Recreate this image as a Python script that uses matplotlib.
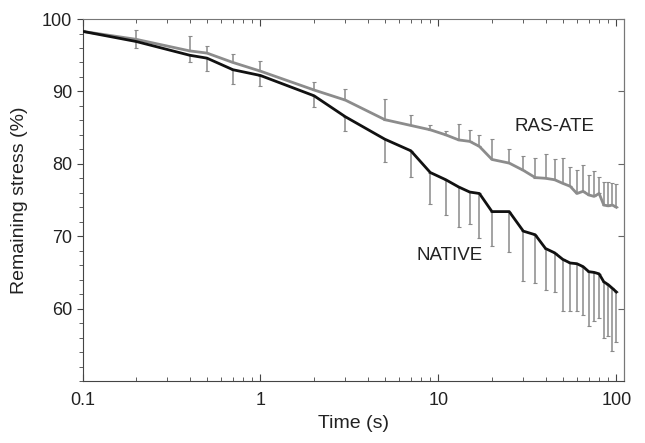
import numpy as np
import matplotlib.pyplot as plt
from matplotlib.ticker import LogLocator, MultipleLocator, FixedLocator

plt.rcParams['font.family'] = ['Liberation Sans', 'DejaVu Sans']

# time points (s)
t = [0.1, 0.2, 0.4, 0.5, 0.7, 1, 2, 3, 5, 7, 9, 11, 13, 15, 17, 20, 25, 30, 35,
     40, 45, 50, 55, 60, 65, 70, 75, 80, 85, 90, 95, 100]

# RAS-ATE mean and upper error bar top
ras = [98.3, 97.2, 95.6, 95.3, 94.0, 92.8, 90.2, 88.8, 86.1, 85.3, 84.7, 84.0,
       83.3, 83.1, 82.4, 80.6, 80.1, 79.1, 78.1, 78.0, 77.8, 77.3, 76.9, 75.9,
       76.2, 75.7, 75.5, 75.9, 74.3, 74.2, 74.3, 74.0]
ras_top = [98.5, 98.5, 97.7, 96.3, 95.2, 94.2, 91.3, 90.3, 89.0, 86.7, 85.4, 84.6,
           85.5, 84.7, 84.0, 83.4, 82.1, 81.1, 80.8, 81.3, 80.7, 80.8, 79.5, 79.2,
           79.8, 78.5, 79.0, 78.2, 77.5, 77.5, 77.4, 77.2]

# NATIVE mean and lower error bar bottom
nat = [98.3, 96.9, 95.0, 94.6, 93.0, 92.2, 89.4, 86.5, 83.4, 81.8, 78.8, 77.8,
       76.8, 76.1, 75.9, 73.4, 73.4, 70.7, 70.2, 68.3, 67.7, 66.8, 66.3, 66.2,
       65.8, 65.1, 65.0, 64.8, 63.7, 63.3, 62.8, 62.3]
nat_bot = [98.3, 96.0, 94.0, 92.8, 91.0, 90.7, 87.9, 84.6, 80.3, 78.2, 74.4, 72.9,
           71.3, 71.7, 69.8, 68.7, 67.8, 63.8, 63.6, 62.6, 62.3, 59.6, 59.6, 59.6,
           59.1, 57.6, 58.3, 58.7, 56.0, 56.2, 54.2, 55.4]

t = np.array(t)
ras = np.array(ras)
nat = np.array(nat)
ras_err = np.array(ras_top) - ras
nat_err = nat - np.array(nat_bot)

fig = plt.figure(figsize=(6.45, 4.43), dpi=100)
ax = fig.add_axes([0.128, 0.140, 0.839, 0.817])

ebc = '#8a8a8a'
ax.errorbar(t, ras, yerr=[np.zeros_like(ras_err), ras_err], fmt='none',
            ecolor=ebc, elinewidth=1.1, capsize=1.5, capthick=0.8, zorder=1)
ax.errorbar(t, nat, yerr=[nat_err, np.zeros_like(nat_err)], fmt='none',
            ecolor=ebc, elinewidth=1.1, capsize=1.5, capthick=0.8, zorder=1)
ax.plot(t, ras, color='#8c8c8c', lw=2.0, zorder=3)
ax.plot(t, nat, color='#111111', lw=2.0, zorder=4)

ax.set_xscale('log')
ax.set_xlim(0.1, 110)
ax.set_ylim(50, 100)

ax.xaxis.set_major_locator(FixedLocator([0.1, 1, 10, 100]))
ax.xaxis.set_major_formatter(plt.FuncFormatter(lambda v, p: '%g' % v))
ax.xaxis.set_minor_locator(LogLocator(base=10, subs=np.arange(2, 10)))
ax.xaxis.set_minor_formatter(plt.NullFormatter())
ax.yaxis.set_major_locator(FixedLocator([60, 70, 80, 90, 100]))
ax.yaxis.set_minor_locator(MultipleLocator(2))

ax.tick_params(axis='x', which='both', direction='in', top=True, colors='#444444',
               labelcolor='#222222', labelsize=13, pad=8)
ax.tick_params(axis='x', which='major', length=5)
ax.tick_params(axis='x', which='minor', length=3)
ax.tick_params(axis='y', which='both', direction='out', right=False,
               colors='#444444', labelcolor='#222222', labelsize=13)
ax.tick_params(axis='y', which='major', length=4)
ax.tick_params(axis='y', which='minor', length=3)

# right side ticks point inward
sec = ax.secondary_yaxis('right')
sec.yaxis.set_major_locator(FixedLocator([60, 70, 80, 90, 100]))
sec.yaxis.set_minor_locator(plt.NullLocator())
sec.tick_params(direction='in', length=4, labelright=False, colors='#666666')
sec.spines['right'].set_color('#777777')

for s in ['left', 'bottom']:
    ax.spines[s].set_color('#444444')
for s in ['top', 'right']:
    ax.spines[s].set_color('#777777')

ax.set_xlabel('Time (s)', fontsize=14, color='#222222')
ax.set_ylabel('Remaining stress (%)', fontsize=14, color='#222222', labelpad=10)

ax.text(45, 85.1, 'RAS-ATE', fontsize=13.5, color='#222222', ha='center', va='center')
ax.text(11.6, 67.4, 'NATIVE', fontsize=13.5, color='#222222', ha='center', va='center')

fig.savefig('out.png', dpi=100)
